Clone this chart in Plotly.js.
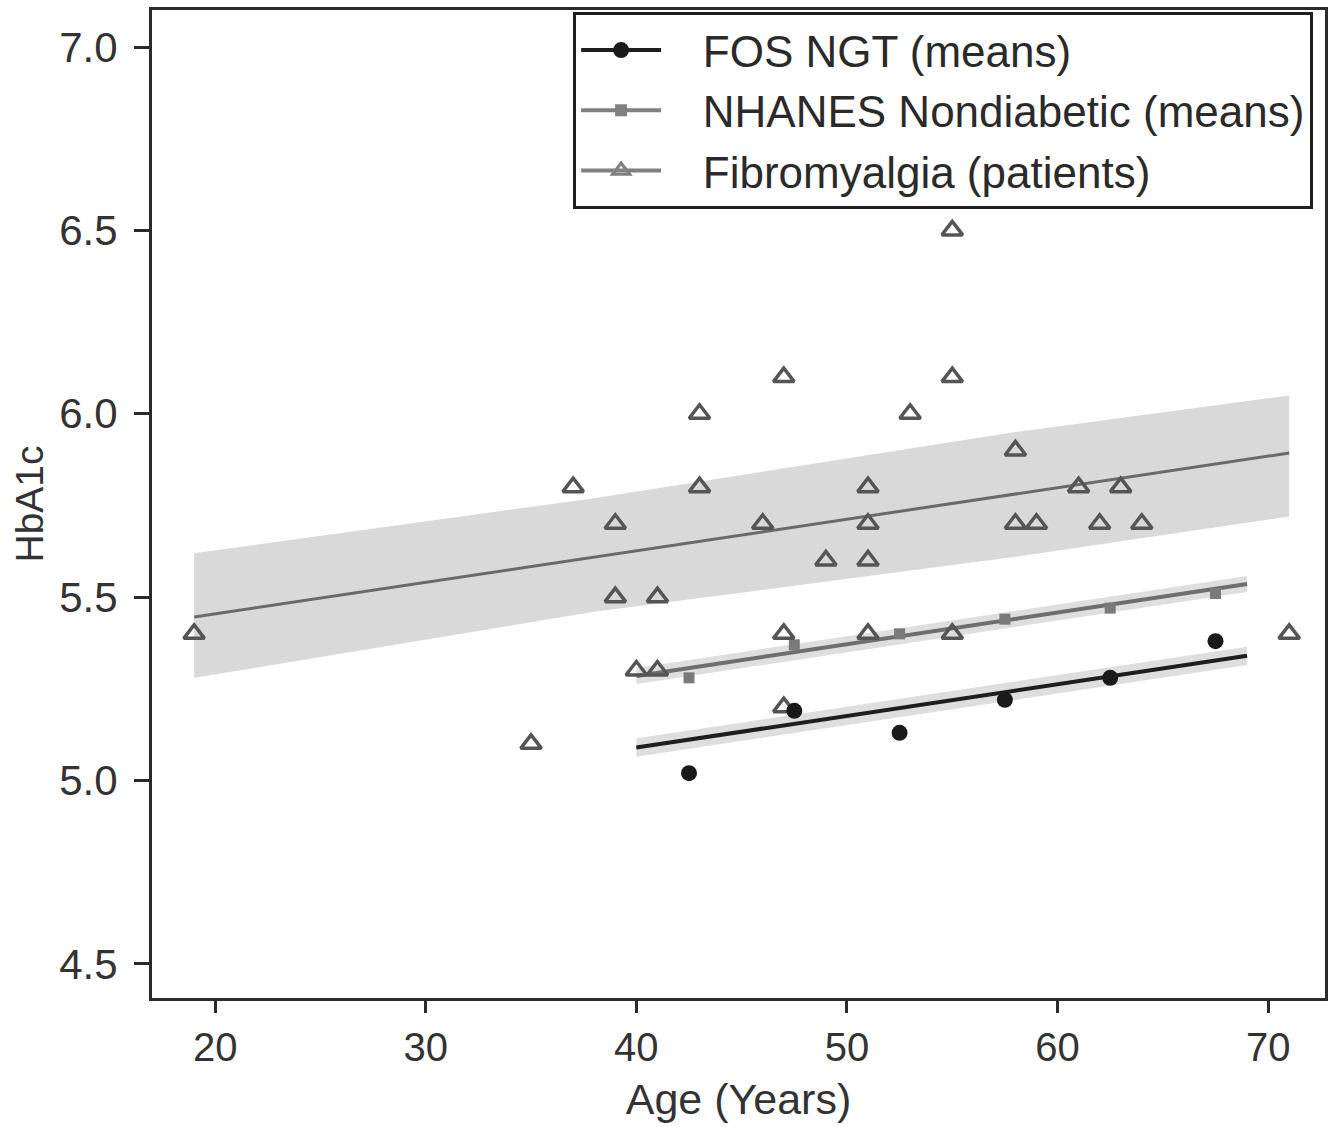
<!DOCTYPE html>
<html>
<head>
<meta charset="utf-8">
<script src="https://cdn.plot.ly/plotly-3.0.1.min.js"></script>
<style>html,body{margin:0;padding:0;background:#fff;}#chart{width:1340px;height:1127px;}</style>
</head>
<body>
<div id="chart"></div>
<script>
// ---- Data ----
// FOS NGT (means)
const fosAge = [42.5, 47.5, 52.5, 57.5, 62.5, 67.5];
const fosHbA1c = [5.02, 5.19, 5.13, 5.22, 5.28, 5.38];
// NHANES Nondiabetic (means)
const nhanesAge = [42.5, 47.5, 52.5, 57.5, 62.5, 67.5];
const nhanesHbA1c = [5.28, 5.37, 5.40, 5.44, 5.47, 5.51];
// Fibromyalgia (patients)
const fibroAge = [19, 35, 37, 39, 39, 40, 41, 41, 43, 43, 46, 47, 47, 47, 49, 51, 51, 51, 51, 53, 55, 55, 55, 58, 58, 59, 61, 62, 63, 64, 71];
const fibroHbA1c = [5.4, 5.1, 5.8, 5.7, 5.5, 5.3, 5.3, 5.5, 6.0, 5.8, 5.7, 6.1, 5.4, 5.2, 5.6, 5.8, 5.7, 5.6, 5.4, 6.0, 6.5, 6.1, 5.4, 5.9, 5.7, 5.7, 5.8, 5.7, 5.8, 5.7, 5.4];

// Fitted lines and confidence bands
const fitAgeMeans = [40, 69];
const fosFit = [5.09, 5.34];
const fosBandUpper = [5.115, 5.365];
const fosBandLower = [5.065, 5.315];
const nhanesFit = [5.285, 5.536];
const nhanesBandUpper = [5.307, 5.558];
const nhanesBandLower = [5.263, 5.514];
const fitAgeFibro = [19, 71];
const fibroFit = [5.446, 5.893];
const bandAgeFibro = [19, 38, 58, 71];
const fibroBandUpper = [5.62, 5.77, 5.95, 6.05];
const fibroBandLower = [5.28, 5.46, 5.61, 5.72];

const seriesNames = ['FOS NGT (means)', 'NHANES Nondiabetic (means)', 'Fibromyalgia (patients)'];
const xTicks = [20, 30, 40, 50, 60, 70];
const yTicks = [4.5, 5.0, 5.5, 6.0, 6.5, 7.0];

// ---- Build traces ----
function band(xs, lo, hi, color) {
  return {
    x: xs.concat(xs.slice().reverse()),
    y: hi.concat(lo.slice().reverse()),
    fill: 'toself', fillcolor: color, mode: 'lines',
    line: {width: 0, color: color}, hoverinfo: 'skip', showlegend: false
  };
}
const pad = '\u00A0\u00A0\u00A0';
const traces = [
  band(bandAgeFibro, fibroBandLower, fibroBandUpper, '#d9d9d9'),
  band(fitAgeMeans, nhanesBandLower, nhanesBandUpper, '#dedede'),
  band(fitAgeMeans, fosBandLower, fosBandUpper, '#dedede'),
  {x: fitAgeFibro, y: fibroFit, mode: 'lines', line: {color: '#6a6a6a', width: 3}, showlegend: false},
  {x: fitAgeMeans, y: nhanesFit, mode: 'lines', line: {color: '#6e6e6e', width: 4}, showlegend: false},
  {x: fitAgeMeans, y: fosFit, mode: 'lines', line: {color: '#1e1e1e', width: 4}, showlegend: false},
  {x: nhanesAge, y: nhanesHbA1c, mode: 'markers', marker: {symbol: 'square', size: 11, color: '#7a7a7a'}, showlegend: false},
  {x: fibroAge, y: fibroHbA1c, mode: 'markers', marker: {symbol: 'triangle-up-open', size: 18, color: '#555', line: {width: 3.5, color: '#555'}}, showlegend: false},
  {x: fosAge, y: fosHbA1c, mode: 'markers', marker: {symbol: 'circle', size: 16, color: '#1a1a1a'}, showlegend: false},
  // legend entries
  {x: [null], y: [null], name: pad + seriesNames[0], mode: 'lines+markers', line: {color: '#1e1e1e', width: 4}, marker: {symbol: 'circle', size: 16, color: '#1a1a1a'}},
  {x: [null], y: [null], name: pad + seriesNames[1], mode: 'lines+markers', line: {color: '#808080', width: 4}, marker: {symbol: 'square', size: 12, color: '#808080'}},
  {x: [null], y: [null], name: pad + seriesNames[2], mode: 'lines+markers', line: {color: '#808080', width: 4}, marker: {symbol: 'triangle-up-open', size: 15, color: '#808080', line: {width: 3, color: '#808080'}}}
];

const fontFam = 'Liberation Sans, Arial, sans-serif';
const layout = {
  width: 1340, height: 1127,
  margin: {l: 152, r: 15, t: 10, b: 129},
  paper_bgcolor: '#fff', plot_bgcolor: '#fff',
  font: {family: fontFam, color: '#333'},
  showlegend: true,
  xaxis: {
    range: [17.0, 72.7], tickvals: xTicks, ticktext: xTicks.map(String),
    showgrid: false, zeroline: false,
    showline: true, linecolor: '#2b2b2b', linewidth: 3, mirror: true,
    ticks: 'outside', ticklen: 12, tickwidth: 3, tickcolor: '#2b2b2b',
    tickfont: {size: 40, color: '#333', family: fontFam},
    ticklabelstandoff: 0,
    title: {text: 'Age (Years)', font: {size: 43, color: '#333', family: fontFam}, standoff: 16}
  },
  yaxis: {
    range: [4.407, 7.101], tickvals: yTicks, ticktext: yTicks.map(v => v.toFixed(1)),
    showgrid: false, zeroline: false,
    showline: true, linecolor: '#2b2b2b', linewidth: 3, mirror: true,
    ticks: 'outside', ticklen: 15, tickwidth: 3, tickcolor: '#2b2b2b',
    tickfont: {size: 42, color: '#333', family: fontFam},
    ticklabelstandoff: 8,
    title: {text: 'HbA1c', font: {size: 39, color: '#333', family: fontFam}, standoff: 4}
  },
  legend: {
    x: 0.359, xanchor: 'left', y: 0.998, yanchor: 'top',
    bgcolor: '#fff', bordercolor: '#1e1e1e', borderwidth: 3,
    font: {size: 44, color: '#2a2a2a', family: fontFam},
    itemwidth: 80, traceorder: 'normal'
  }
};

Plotly.newPlot('chart', traces, layout, {displayModeBar: false, staticPlot: true});
</script>
</body>
</html>
